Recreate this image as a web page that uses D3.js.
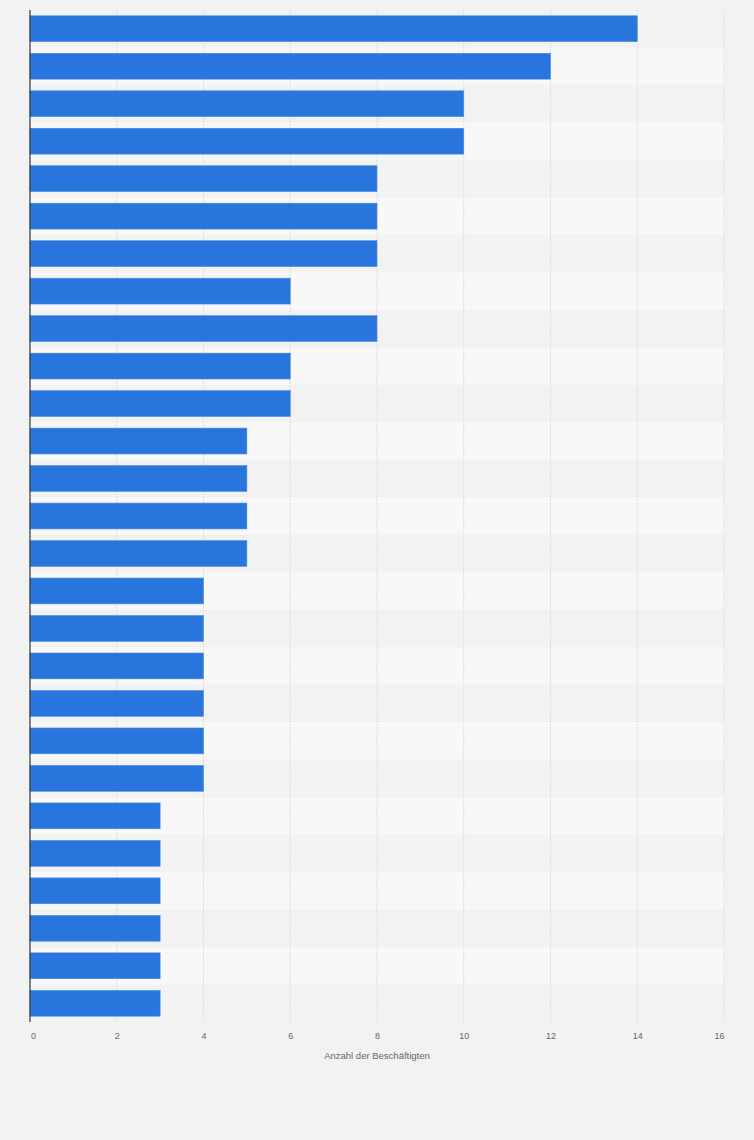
<!DOCTYPE html>
<html><head><meta charset="utf-8">
<script src="https://cdn.jsdelivr.net/npm/d3@7"></script>
<style>html,body{margin:0;padding:0;background:#f2f2f2;}svg{display:block;}</style>
</head><body>
<script>
const categories = ["K1","K2","K3","K4","K5","K6","K7","K8","K9","K10","K11","K12","K13","K14","K15","K16","K17","K18","K19","K20","K21","K22","K23","K24","K25","K26","K27"];
const values = [14,12,10,10,8,8,8,6,8,6,6,5,5,5,5,4,4,4,4,4,4,3,3,3,3,3,3];
const xTicks = [0,2,4,6,8,10,12,14,16];
const xTitle = "Anzahl der Beschäftigten";

const W = 754, H = 1140;
const m = {left: 30, right: 30, top: 10, bottom: 118};
const FONT = "'Liberation Sans', Arial, sans-serif";
const svg = d3.select("body").append("svg").attr("width", W).attr("height", H);
svg.append("rect").attr("width", W).attr("height", H).attr("fill", "#f2f2f2");

const x = d3.scaleLinear().domain([0,16]).range([m.left, W - m.right]);
const y = d3.scaleBand().domain(categories).range([m.top, H - m.bottom]).paddingInner(0.31).paddingOuter(0.155);
const band = d3.scaleBand().domain(categories).range([m.top, H - m.bottom]);

// stripes
svg.append("g").selectAll("rect").data(categories).join("rect")
  .attr("x", m.left).attr("width", W - m.right - m.left + 1)
  .attr("y", d => band(d)).attr("height", band.bandwidth())
  .attr("fill", (d,i) => i % 2 ? "#f8f8f8" : "#f2f2f2");

// grid
svg.append("g").selectAll("line").data(xTicks.slice(1)).join("line")
  .attr("x1", d => x(d)).attr("x2", d => x(d))
  .attr("y1", m.top).attr("y2", H - m.bottom)
  .attr("stroke", "#dddddd").attr("stroke-width", 1).attr("stroke-dasharray", "2,1");

// bars
svg.append("g").selectAll("rect").data(values).join("rect")
  .attr("x", x(0)).attr("y", (d,i) => y(categories[i]))
  .attr("width", d => x(d) - x(0)).attr("height", y.bandwidth())
  .attr("fill", "#2876dd").attr("stroke", "#4a8ce4").attr("stroke-width", 0.6);

// y axis line
svg.append("line").attr("x1", x(0)).attr("x2", x(0)).attr("y1", m.top).attr("y2", H - m.bottom)
  .attr("stroke", "#333").attr("stroke-width", 1.2);

// x axis
const xa = svg.append("g").attr("transform", `translate(0,${H - m.bottom})`)
  .call(d3.axisBottom(x).tickValues(xTicks).tickSize(0).tickPadding(11));
xa.select(".domain").remove();
xa.selectAll("text").attr("fill", "#666").attr("font-size", 9).attr("font-family", FONT);
xa.selectAll(".tick text").attr("dx", (d,i) => i === 0 ? 3 : (d === 16 ? -5 : 0));

svg.append("text").attr("x", (x(0) + x(16)) / 2).attr("y", 1059)
  .attr("text-anchor", "middle").attr("fill", "#666").attr("font-size", 9.5)
  .attr("font-family", FONT).text(xTitle);
</script>
</body></html>
